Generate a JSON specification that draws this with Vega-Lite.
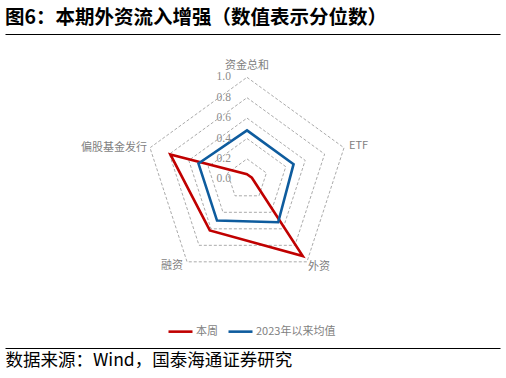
{
  "$schema": "https://vega.github.io/schema/vega-lite/v6.json",
  "width": 495,
  "height": 314,
  "autosize": {"type": "none"},
  "padding": {"left": 5, "top": 34, "right": 6, "bottom": 30},
  "background": "white",
  "config": {"view": {"stroke": null}},
  "title": {
    "text": "图6：本期外资流入增强（数值表示分位数）",
    "anchor": "start",
    "font": "Noto Sans CJK SC",
    "fontSize": 19.5,
    "fontWeight": "bold",
    "color": "#000000",
    "offset": 6
  },
  "datasets": {
    "series": [
      {"series": "本周", "axis": "资金总和", "k": 0, "value": 0.05},
      {"series": "本周", "axis": "ETF", "k": 1, "value": 0.05},
      {"series": "本周", "axis": "外资", "k": 2, "value": 0.93},
      {"series": "本周", "axis": "融资", "k": 3, "value": 0.62},
      {"series": "本周", "axis": "偏股基金发行", "k": 4, "value": 0.79},
      {"series": "2023年以来均值", "axis": "资金总和", "k": 0, "value": 0.48},
      {"series": "2023年以来均值", "axis": "ETF", "k": 1, "value": 0.48},
      {"series": "2023年以来均值", "axis": "外资", "k": 2, "value": 0.52},
      {"series": "2023年以来均值", "axis": "融资", "k": 3, "value": 0.5},
      {"series": "2023年以来均值", "axis": "偏股基金发行", "k": 4, "value": 0.5}
    ],
    "axes": [
      {"axis": "资金总和", "k": 0},
      {"axis": "ETF", "k": 1},
      {"axis": "外资", "k": 2},
      {"axis": "融资", "k": 3},
      {"axis": "偏股基金发行", "k": 4}
    ],
    "grid": [
      {"level": 0.2, "k": 0}, {"level": 0.2, "k": 1}, {"level": 0.2, "k": 2}, {"level": 0.2, "k": 3}, {"level": 0.2, "k": 4},
      {"level": 0.4, "k": 0}, {"level": 0.4, "k": 1}, {"level": 0.4, "k": 2}, {"level": 0.4, "k": 3}, {"level": 0.4, "k": 4},
      {"level": 0.6, "k": 0}, {"level": 0.6, "k": 1}, {"level": 0.6, "k": 2}, {"level": 0.6, "k": 3}, {"level": 0.6, "k": 4},
      {"level": 0.8, "k": 0}, {"level": 0.8, "k": 1}, {"level": 0.8, "k": 2}, {"level": 0.8, "k": 3}, {"level": 0.8, "k": 4},
      {"level": 1.0, "k": 0}, {"level": 1.0, "k": 1}, {"level": 1.0, "k": 2}, {"level": 1.0, "k": 3}, {"level": 1.0, "k": 4}
    ],
    "ticks": [
      {"level": 0.0}, {"level": 0.2}, {"level": 0.4}, {"level": 0.6}, {"level": 0.8}, {"level": 1.0}
    ]
  },
  "layer": [
    {
      "data": {"name": "grid"},
      "transform": [
        {"calculate": "PI/2 - datum.k*2*PI/5", "as": "t"},
        {"calculate": "datum.level*cos(datum.t)", "as": "px"},
        {"calculate": "datum.level*sin(datum.t)", "as": "py"}
      ],
      "mark": {"type": "line", "interpolate": "linear-closed", "stroke": "#a0a0a0", "strokeWidth": 0.9, "strokeDash": [3, 2]},
      "encoding": {
        "x": {"field": "px", "type": "quantitative", "scale": {"domain": [-2.3725, 2.4804], "nice": false, "zero": false},
          "axis": {"orient": "top", "domain": true, "domainColor": "#000000", "domainWidth": 1.2, "ticks": false, "labels": false, "grid": false, "title": null}},
        "y": {"field": "py", "type": "quantitative", "scale": {"domain": [-1.6539, 1.4245], "nice": false, "zero": false}, "axis": null},
        "detail": {"field": "level"},
        "order": {"field": "k"}
      }
    },
    {
      "data": {"name": "series"},
      "transform": [
        {"calculate": "PI/2 - datum.k*2*PI/5", "as": "t"},
        {"calculate": "datum.value*cos(datum.t)", "as": "px"},
        {"calculate": "datum.value*sin(datum.t)", "as": "py"}
      ],
      "mark": {"type": "line", "interpolate": "linear-closed", "strokeWidth": 2.6},
      "encoding": {
        "x": {"field": "px", "type": "quantitative", "scale": {"domain": [-2.3725, 2.4804], "nice": false, "zero": false},
          "axis": {"orient": "bottom", "domain": true, "domainColor": "#000000", "domainWidth": 1.2, "ticks": false, "labels": false, "grid": false,
            "title": "数据来源：Wind，国泰海通证券研究", "titleAnchor": "start", "titleFont": "Noto Sans CJK SC", "titleFontSize": 17.5,
            "titleFontWeight": "normal", "titleColor": "#000000", "titlePadding": 3, "titleBaseline": "top"}},
        "y": {"field": "py", "type": "quantitative", "scale": {"domain": [-1.6539, 1.4245], "nice": false, "zero": false}, "axis": null},
        "color": {"field": "series", "type": "nominal",
          "scale": {"domain": ["本周", "2023年以来均值"], "range": ["#C00000", "#0E5C9E"]},
          "legend": {"orient": "none", "legendX": 162, "legendY": 284, "direction": "horizontal", "title": null,
            "symbolType": "stroke", "symbolStrokeWidth": 2.6, "symbolSize": 576, "labelFontSize": 11, "labelColor": "#7f7f7f",
            "labelFont": "Noto Sans CJK SC", "columnPadding": 5, "labelOffset": 2, "padding": 0}},
        "order": {"field": "k"}
      }
    },
    {
      "data": {"name": "axes"},
      "transform": [
        {"filter": "datum.k == 0"},
        {"calculate": "PI/2 - datum.k*2*PI/5", "as": "t"},
        {"calculate": "cos(datum.t)", "as": "px"},
        {"calculate": "sin(datum.t)", "as": "py"}
      ],
      "mark": {"type": "text", "align": "center", "baseline": "middle", "dy": -11, "font": "Noto Sans CJK SC", "fontSize": 11, "color": "#7f7f7f"},
      "encoding": {
        "x": {"field": "px", "type": "quantitative", "axis": null},
        "y": {"field": "py", "type": "quantitative", "axis": null},
        "text": {"field": "axis"}
      }
    },
    {
      "data": {"name": "axes"},
      "transform": [
        {"filter": "datum.k == 1"},
        {"calculate": "PI/2 - datum.k*2*PI/5", "as": "t"},
        {"calculate": "cos(datum.t)", "as": "px"},
        {"calculate": "sin(datum.t)", "as": "py"}
      ],
      "mark": {"type": "text", "align": "left", "baseline": "middle", "dx": 5, "dy": -2, "font": "Noto Sans CJK SC", "fontSize": 11, "color": "#7f7f7f"},
      "encoding": {
        "x": {"field": "px", "type": "quantitative", "axis": null},
        "y": {"field": "py", "type": "quantitative", "axis": null},
        "text": {"field": "axis"}
      }
    },
    {
      "data": {"name": "axes"},
      "transform": [
        {"filter": "datum.k == 2"},
        {"calculate": "PI/2 - datum.k*2*PI/5", "as": "t"},
        {"calculate": "cos(datum.t)", "as": "px"},
        {"calculate": "sin(datum.t)", "as": "py"}
      ],
      "mark": {"type": "text", "align": "left", "baseline": "middle", "dx": 1, "dy": 5, "font": "Noto Sans CJK SC", "fontSize": 11, "color": "#7f7f7f"},
      "encoding": {
        "x": {"field": "px", "type": "quantitative", "axis": null},
        "y": {"field": "py", "type": "quantitative", "axis": null},
        "text": {"field": "axis"}
      }
    },
    {
      "data": {"name": "axes"},
      "transform": [
        {"filter": "datum.k == 3"},
        {"calculate": "PI/2 - datum.k*2*PI/5", "as": "t"},
        {"calculate": "cos(datum.t)", "as": "px"},
        {"calculate": "sin(datum.t)", "as": "py"}
      ],
      "mark": {"type": "text", "align": "right", "baseline": "middle", "dx": -4, "dy": 4, "font": "Noto Sans CJK SC", "fontSize": 11, "color": "#7f7f7f"},
      "encoding": {
        "x": {"field": "px", "type": "quantitative", "axis": null},
        "y": {"field": "py", "type": "quantitative", "axis": null},
        "text": {"field": "axis"}
      }
    },
    {
      "data": {"name": "axes"},
      "transform": [
        {"filter": "datum.k == 4"},
        {"calculate": "PI/2 - datum.k*2*PI/5", "as": "t"},
        {"calculate": "cos(datum.t)", "as": "px"},
        {"calculate": "sin(datum.t)", "as": "py"}
      ],
      "mark": {"type": "text", "align": "right", "baseline": "middle", "dx": -3, "dy": 0, "font": "Noto Sans CJK SC", "fontSize": 11, "color": "#7f7f7f"},
      "encoding": {
        "x": {"field": "px", "type": "quantitative", "axis": null},
        "y": {"field": "py", "type": "quantitative", "axis": null},
        "text": {"field": "axis"}
      }
    },
    {
      "data": {"name": "ticks"},
      "transform": [
        {"calculate": "0", "as": "px"}
      ],
      "mark": {"type": "text", "align": "right", "baseline": "middle", "dx": -16, "font": "Liberation Serif", "fontSize": 11.5, "color": "#8c8c8c"},
      "encoding": {
        "x": {"field": "px", "type": "quantitative", "axis": null},
        "y": {"field": "level", "type": "quantitative", "axis": null},
        "text": {"field": "level", "type": "quantitative", "format": ".1f"}
      }
    }
  ],
  "resolve": {"axis": {"x": "independent"}}
}
